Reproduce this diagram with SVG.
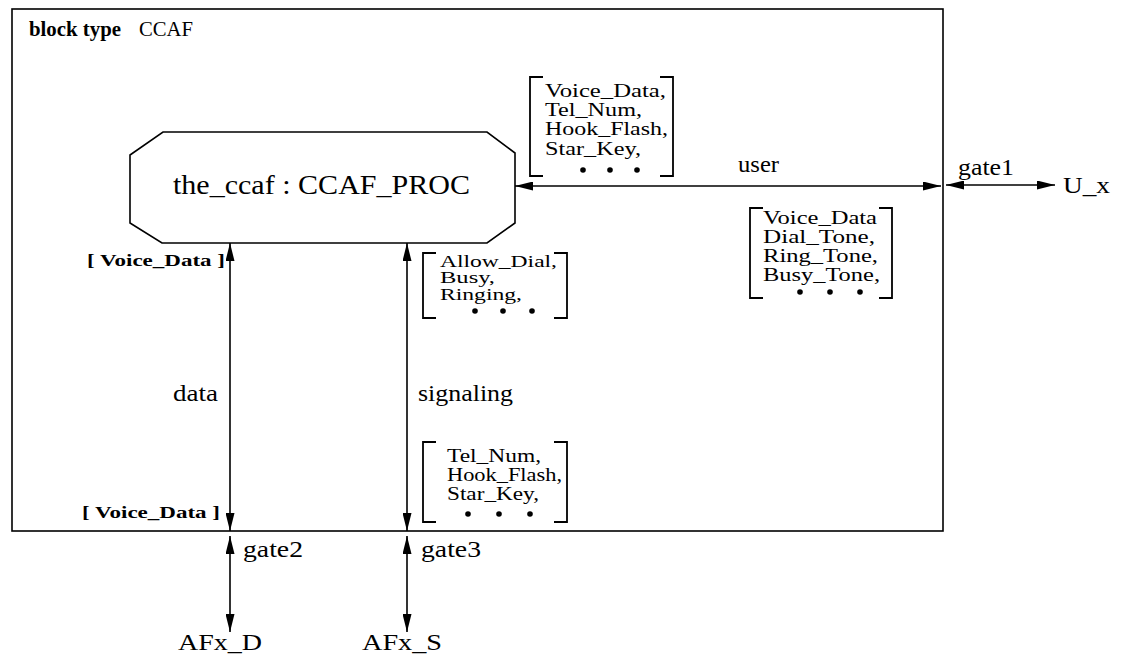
<svg xmlns="http://www.w3.org/2000/svg" width="1129" height="660" viewBox="0 0 1129 660">
<defs>
<style>
text{font-family:"Liberation Serif","Times New Roman",serif;fill:#000}
.lbl{font-size:24px}
.lst{font-size:18px}
.lst3{font-size:16px}
.sm{font-size:16px;font-weight:bold}
.ln{stroke:#000;stroke-width:1.6;fill:none}
.br{stroke:#000;stroke-width:1.8;fill:none}
</style>
<marker id="ah" viewBox="0 0 18 9" refX="18" refY="4.5" markerWidth="18" markerHeight="9" markerUnits="userSpaceOnUse" orient="auto-start-reverse">
<path d="M0,0 L18,4.5 L0,9 z" fill="#000"/>
</marker>
</defs>
<rect width="1129" height="660" fill="#fff"/>
<g id="block">
<rect x="12" y="9" width="931" height="522" class="ln"/>
<text x="29" y="36" font-size="22" font-weight="bold" textLength="92" lengthAdjust="spacingAndGlyphs">block type</text>
<text x="139" y="36" font-size="22" textLength="54" lengthAdjust="spacingAndGlyphs">CCAF</text>
</g>
<g id="the_ccaf">
<polygon points="163,132 487,132 515,153 515,223 487,243 162,243 130,223 130,155" class="ln"/>
<text x="173" y="194" font-size="28" textLength="297" lengthAdjust="spacingAndGlyphs">the_ccaf : CCAF_PROC</text>
</g>
<g id="connectors">
<line x1="515" y1="186" x2="941" y2="186" class="ln" marker-start="url(#ah)" marker-end="url(#ah)"/>
<line x1="946" y1="185" x2="1055" y2="185" class="ln" marker-start="url(#ah)" marker-end="url(#ah)"/>
<line x1="230" y1="243" x2="230" y2="531" class="ln" marker-start="url(#ah)" marker-end="url(#ah)"/>
<line x1="407" y1="243" x2="407" y2="531" class="ln" marker-start="url(#ah)" marker-end="url(#ah)"/>
<line x1="230" y1="536" x2="230" y2="632" class="ln" marker-start="url(#ah)" marker-end="url(#ah)"/>
<line x1="407" y1="536" x2="407" y2="632" class="ln" marker-start="url(#ah)" marker-end="url(#ah)"/>
<text x="738" y="172" class="lbl" textLength="41" lengthAdjust="spacingAndGlyphs">user</text>
<text x="958" y="175" class="lbl" textLength="56" lengthAdjust="spacingAndGlyphs">gate1</text>
<text x="173" y="401" class="lbl" textLength="45" lengthAdjust="spacingAndGlyphs">data</text>
<text x="418" y="401" class="lbl" textLength="95" lengthAdjust="spacingAndGlyphs">signaling</text>
<text x="243" y="557" class="lbl" textLength="60" lengthAdjust="spacingAndGlyphs">gate2</text>
<text x="421" y="557" class="lbl" textLength="60" lengthAdjust="spacingAndGlyphs">gate3</text>
<text x="87" y="266" class="sm" textLength="138" lengthAdjust="spacingAndGlyphs">[ Voice_Data ]</text>
<text x="82" y="518" class="sm" textLength="138" lengthAdjust="spacingAndGlyphs">[ Voice_Data ]</text>
</g>
<g id="sig_user_in">
<path d="M543,77 H530 V176 H543 M660,77 H673 V176 H660" class="br"/>
<text x="545" y="97" class="lst" textLength="121" lengthAdjust="spacingAndGlyphs">Voice_Data,</text>
<text x="545" y="116" class="lst" textLength="97" lengthAdjust="spacingAndGlyphs">Tel_Num,</text>
<text x="545" y="135" class="lst" textLength="123" lengthAdjust="spacingAndGlyphs">Hook_Flash,</text>
<text x="545" y="155" class="lst" textLength="96" lengthAdjust="spacingAndGlyphs">Star_Key,</text>
<circle cx="583" cy="170" r="2.8"/><circle cx="610" cy="170" r="2.8"/><circle cx="637" cy="170" r="2.8"/>
</g>
<g id="sig_user_out">
<path d="M763,208 H750 V298 H763 M879,208 H892 V298 H879" class="br"/>
<text x="763" y="224" class="lst" textLength="114" lengthAdjust="spacingAndGlyphs">Voice_Data</text>
<text x="763" y="243" class="lst" textLength="112" lengthAdjust="spacingAndGlyphs">Dial_Tone,</text>
<text x="763" y="262" class="lst" textLength="115" lengthAdjust="spacingAndGlyphs">Ring_Tone,</text>
<text x="763" y="281" class="lst" textLength="117" lengthAdjust="spacingAndGlyphs">Busy_Tone,</text>
<circle cx="800" cy="292" r="2.8"/><circle cx="830" cy="292" r="2.8"/><circle cx="860" cy="292" r="2.8"/>
</g>
<g id="sig_signal_out">
<path d="M436,253 H423 V318 H436 M554,253 H567 V318 H554" class="br"/>
<text x="440" y="267" class="lst3" textLength="117" lengthAdjust="spacingAndGlyphs">Allow_Dial,</text>
<text x="440" y="283" class="lst3" textLength="55" lengthAdjust="spacingAndGlyphs">Busy,</text>
<text x="440" y="300" class="lst3" textLength="82" lengthAdjust="spacingAndGlyphs">Ringing,</text>
<circle cx="475" cy="311" r="2.8"/><circle cx="503" cy="311" r="2.8"/><circle cx="532" cy="311" r="2.8"/>
</g>
<g id="sig_signal_in">
<path d="M436,442 H423 V522 H436 M554,442 H567 V522 H554" class="br"/>
<text x="447" y="462" class="lst" textLength="94" lengthAdjust="spacingAndGlyphs">Tel_Num,</text>
<text x="447" y="481" class="lst" textLength="115" lengthAdjust="spacingAndGlyphs">Hook_Flash,</text>
<text x="447" y="500" class="lst" textLength="92" lengthAdjust="spacingAndGlyphs">Star_Key,</text>
<circle cx="468" cy="514" r="2.8"/><circle cx="499" cy="514" r="2.8"/><circle cx="530" cy="514" r="2.8"/>
</g>
<g id="U_x"><text x="1063" y="193" font-size="24" textLength="47" lengthAdjust="spacingAndGlyphs">U_x</text></g>
<g id="AFx_D"><text x="178" y="650" font-size="24" textLength="84" lengthAdjust="spacingAndGlyphs">AFx_D</text></g>
<g id="AFx_S"><text x="362" y="650" font-size="24" textLength="80" lengthAdjust="spacingAndGlyphs">AFx_S</text></g>
</svg>
